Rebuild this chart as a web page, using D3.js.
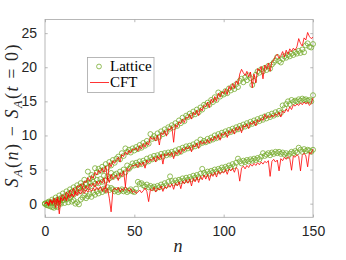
<!DOCTYPE html>
<html>
<head>
<meta charset="utf-8">
<script src="https://cdn.jsdelivr.net/npm/d3@7"></script>
<style>
  body { margin: 0; background: #fff; }
  svg { display: block; }
</style>
</head>
<body>
<div id="chart"></div>
<script>
// values, one per n = 0..150
var latA = [
  0, -0.2, 0.3, 0.1, 0.6, 0.2, 0.9, 0.5, 1.2, 0.8,
  1.5, 1.0, 1.8, 1.4, 2.1, 1.7, 2.4, 2.0, 2.7, 2.3,
  3.0, 2.6, 3.5, 3.0, 4.7, 3.6, 4.2, 3.9, 5.2, 4.6,
  5.1, 4.8, 5.4, 5.0, 5.8, 5.3, 6.1, 5.6, 6.4, 6.0,
  6.6, 6.9, 6.5, 7.4, 7.0, 8.1, 7.6, 7.9, 7.5, 8.1,
  7.8, 8.3, 8.0, 8.6, 8.2, 8.9, 8.5, 9.2, 8.8, 10.2,
  9.5, 9.9, 9.6, 10.3, 9.8, 10.6, 10.2, 10.9, 10.5, 11.2,
  11.0, 11.5, 11.2, 11.8, 11.4, 12.2, 11.8, 12.6, 12.1, 12.9,
  12.7, 13.2, 12.9, 13.5, 13.1, 13.8, 13.4, 14.1, 13.8, 14.5,
  14.3, 14.8, 14.5, 15.2, 14.9, 15.6, 15.2, 16.3, 15.7, 16.1,
  16.0, 16.5, 16.2, 16.9, 16.6, 17.2, 16.8, 17.5, 17.1, 18.0,
  18.3, 17.8, 18.5, 18.1, 18.8, 18.4, 17.4, 18.0, 18.9, 19.4,
  19.2, 19.7, 19.4, 19.9, 19.6, 20.2, 19.8, 20.4, 20.7, 21.0,
  21.5, 20.9, 20.7, 21.2, 21.6, 21.4, 21.8, 21.6, 22.0, 21.8,
  22.2, 22.0, 22.4, 22.1, 22.6, 22.2, 23.2, 23.5, 23.0, 22.9,
  23.4
];
var cftA = [
  0, 0.2, -0.3, 0.5, 0.1, 0.8, 0.3, 1.0, -0.2, 1.1,
  1.3, 0.9, 1.7, 1.2, 2.0, 1.6, 2.3, 1.5, 2.6, 2.4,
  2.9, 2.3, 3.3, 3.1, 3.8, 3.3, 4.1, 3.7, 4.6, 4.2,
  4.9, 4.5, 5.2, 4.6, 5.5, 3.5, 6.0, 5.4, 6.3, 5.9,
  6.4, 6.8, 6.1, 7.2, 6.9, 7.6, 7.2, 7.8, 7.4, 8.0,
  7.9, 8.2, 7.7, 8.5, 8.0, 8.8, 8.3, 9.0, 8.6, 9.8,
  9.4, 9.7, 9.2, 10.0, 8.6, 10.4, 10.1, 10.7, 9.9, 11.0,
  10.8, 11.3, 9.0, 11.6, 11.2, 12.0, 11.7, 12.4, 11.9, 12.7,
  12.5, 13.1, 12.4, 13.4, 13.0, 13.7, 12.9, 14.0, 13.6, 14.4,
  14.2, 14.9, 14.1, 15.3, 14.8, 15.7, 15.0, 16.2, 15.6, 16.4,
  16.1, 16.8, 16.0, 17.2, 16.7, 17.6, 16.9, 18.0, 17.5, 19.0,
  19.7, 19.2, 18.8, 19.4, 18.6, 19.3, 17.0, 19.0, 17.7, 19.8,
  19.5, 20.1, 18.3, 20.3, 19.7, 20.6, 19.4, 20.8, 21.0, 21.6,
  21.9, 21.3, 21.7, 22.3, 21.5, 22.5, 21.9, 22.7, 22.3, 22.8,
  22.5, 23.0, 24.2, 23.5, 23.1, 24.3, 24.0, 25.1, 24.5, 24.2,
  24.4
];
var latB = [
  0, 0.1, -0.3, 0.2, -0.5, 0.4, -0.4, 0.6, 0.0, 0.8,
  0.5, 1.1, 0.7, 1.4, 1.0, 1.7, 1.3, 2.0, 1.6, 2.3,
  1.9, 2.5, 2.2, 2.8, 2.4, 3.1, 2.6, 3.2, 2.9, 3.5,
  3.0, 3.6, 3.2, 4.1, 3.4, 4.0, 3.7, 4.5, 3.9, 4.2,
  4.4, 4.0, 4.7, 4.3, 5.0, 4.6, 5.6, 5.1, 5.4, 5.9,
  5.6, 6.0, 5.7, 6.2, 5.8, 6.3, 6.0, 6.6, 6.2, 6.8,
  6.5, 7.0, 6.6, 7.1, 6.8, 7.3, 6.9, 7.4, 7.1, 7.5,
  7.2, 7.6, 7.3, 7.8, 7.4, 8.0, 7.6, 8.2, 7.9, 8.4,
  8.1, 8.5, 8.2, 8.7, 8.4, 9.0, 8.6, 9.4, 8.9, 9.2,
  9.0, 9.5, 9.2, 9.7, 9.4, 10.0, 9.6, 10.2, 9.9, 10.4,
  10.1, 10.6, 10.3, 10.8, 10.5, 11.0, 10.7, 11.2, 10.9, 11.4,
  11.1, 11.6, 11.3, 11.8, 11.5, 12.0, 11.7, 12.2, 11.9, 12.4,
  12.1, 12.6, 12.3, 12.8, 12.5, 13.0, 12.7, 13.2, 12.9, 13.4,
  13.1, 13.6, 13.3, 14.4, 14.0, 14.6, 15.0, 14.6, 15.2, 14.9,
  15.1, 15.0, 15.3, 15.1, 15.4, 15.2, 15.3, 15.1, 15.2, 15.0,
  15.9
];
var cftB = [
  0, 0.3, -0.1, 0.6, 0.2, 0.4, -0.6, 0.7, -1.5, 0.9,
  0.6, 1.0, 0.4, 1.3, 1.1, 1.5, 1.0, 1.8, 1.4, 2.1,
  1.8, 2.3, 1.9, 2.6, 2.1, 2.9, 2.5, 3.0, 2.4, 3.3,
  2.8, 3.4, 3.0, 3.8, 2.2, 3.9, 3.1, 4.3, 3.6, 4.0,
  4.2, 3.4, 4.5, 4.0, 4.8, 2.5, 5.2, 4.8, 5.3, 5.6,
  5.5, 5.8, 5.3, 6.0, 5.6, 6.1, 5.2, 6.4, 6.0, 6.5,
  6.3, 6.8, 6.1, 7.0, 6.5, 7.2, 5.8, 7.3, 7.0, 7.4,
  7.0, 7.5, 6.6, 7.6, 7.2, 7.9, 7.3, 8.1, 7.7, 8.3,
  8.0, 8.4, 7.6, 8.6, 8.3, 8.9, 8.1, 9.2, 8.7, 9.1,
  8.8, 9.4, 8.9, 9.6, 9.2, 9.9, 9.4, 10.1, 9.3, 10.3,
  10.0, 10.5, 9.7, 10.7, 10.3, 10.9, 10.2, 11.2, 10.7, 11.3,
  10.4, 11.5, 11.2, 11.7, 11.0, 11.9, 11.6, 12.1, 11.4, 12.3,
  12.0, 12.5, 12.2, 13.1, 12.5, 12.9, 12.6, 13.0, 12.7, 13.2,
  12.9, 13.4, 12.7, 13.6, 13.3, 13.9, 13.5, 14.2, 13.8, 14.5,
  14.3, 14.6, 14.4, 14.8, 14.5, 14.9, 14.6, 14.9, 14.4, 14.7,
  15.5
];
var latC = [
  0, -0.2, 0.2, -0.4, 0.1, -0.6, 0.3, -0.5, 0.4, 0.0,
  0.5, 0.1, 0.6, 0.2, 0.8, 0.3, 0.5, 0.0, 0.2, -0.1,
  0.6, 0.9, 1.2, 0.8, 1.1, 1.4, 1.0, 1.6, 1.3, 1.8,
  1.5, 2.0, 1.7, 2.2, 1.9, 2.4, 2.0, 2.3, 2.1, 1.8,
  2.0, 1.7, 1.9, 2.1, 1.8, 2.0, 1.7, 1.9, 2.1, 1.8,
  1.7, 2.2, 3.2, 2.9, 3.0, 2.7, 2.5, 2.8, 2.4, 2.6,
  2.3, 2.5, 2.2, 2.6, 2.4, 2.8, 2.5, 3.0, 2.7, 3.2,
  4.0, 3.3, 3.0, 3.4, 3.1, 3.5, 3.3, 3.7, 3.4, 3.8,
  3.5, 3.9, 3.6, 4.1, 3.8, 4.2, 3.9, 4.4, 5.1, 4.5,
  4.3, 4.7, 4.4, 4.8, 4.6, 5.0, 4.7, 5.1, 4.9, 5.3,
  5.0, 5.4, 5.2, 5.6, 5.3, 5.8, 5.5, 6.0, 6.6, 6.2,
  5.9, 6.3, 6.1, 6.4, 6.2, 6.5, 6.3, 6.6, 6.4, 6.7,
  6.5, 6.9, 7.4, 7.0, 7.2, 7.4, 7.1, 7.5, 7.3, 7.6,
  7.4, 7.6, 7.3, 7.5, 7.2, 7.4, 7.0, 7.3, 7.6, 7.4,
  7.7, 7.5, 8.2, 7.9, 7.6, 8.0, 7.7, 7.9, 7.8, 7.6,
  7.9
];
var cftC = [
  0, 0.2, -0.3, 0.4, -0.1, 0.5, 0.0, 0.6, 0.2, 0.8,
  0.4, 1.0, 0.6, 1.2, 0.8, 1.4, 1.0, 1.5, 1.2, 1.7,
  1.4, 1.9, 1.5, 2.0, 1.7, 2.2, 1.8, 2.3, 1.9, 2.4,
  2.0, 2.5, 1.8, 2.4, 1.6, 2.2, 0.8, -1.2, 1.9, 2.3,
  2.0, 2.4, 1.7, 2.2, 1.9, 2.5, 2.1, 1.8, 2.2, 1.6,
  1.9, 1.5, 1.7, 2.0, 1.6, 1.9, 2.3, 1.8, 0.3, 2.1,
  1.9, 2.4, 1.7, 2.3, 2.0, 2.6, 1.8, 2.5, 2.2, 2.8,
  2.4, 2.9, 2.1, 3.0, 2.6, 3.2, 2.2, 3.3, 2.9, 3.5,
  3.0, 3.6, 2.6, 3.7, 3.2, 3.9, 3.1, 4.0, 3.5, 4.2,
  3.6, 4.3, 3.4, 4.4, 4.0, 4.6, 3.9, 4.8, 4.3, 4.7,
  4.5, 5.0, 4.3, 5.1, 4.8, 5.2, 4.6, 5.3, 5.0, 3.3,
  5.2, 5.5, 5.1, 5.6, 5.3, 5.8, 5.5, 5.9, 5.6, 6.0,
  5.7, 6.1, 5.8, 6.2, 6.0, 6.3, 4.0, 6.2, 6.5, 6.1,
  6.4, 4.8, 6.6, 6.3, 6.8, 6.5, 6.9, 6.6, 4.9, 7.0,
  6.8, 7.2, 6.9, 4.8, 7.1, 7.4, 7.0, 5.4, 7.5, 7.3,
  8.0
];
var xTicks = [0, 50, 100, 150];
var yTicks = [0, 5, 10, 15, 20, 25];

var width = 346, height = 260;
var pLeft = 45, pRight = 313, pTop = 19.5, pBottom = 217.3;

var svg = d3.select('#chart').append('svg')
  .attr('width', width)
  .attr('height', height);

var x = d3.scaleLinear().domain([0, 150]).range([pLeft, pRight]);
var y = d3.scaleLinear().domain([-2, 27]).range([pBottom, pTop]);

var green = '#77AC30', red = '#FF0000', axisCol = '#a6a6a6', textCol = '#262626';

// box
svg.append('rect')
  .attr('x', pLeft).attr('y', pTop)
  .attr('width', pRight - pLeft).attr('height', pBottom - pTop)
  .attr('fill', 'none').attr('stroke', axisCol).attr('stroke-width', 0.8);

// axes (ticks inside, mirrored on top/right)
function styleAxis(g) {
  g.select('.domain').remove();
  g.selectAll('line').attr('stroke', axisCol).attr('stroke-width', 0.8);
  g.selectAll('text').attr('fill', textCol)
    .style('font-family', 'Liberation Sans, Arial, sans-serif').style('font-size', '14px');
}
svg.append('g').attr('transform', 'translate(0,' + pBottom + ')')
  .call(d3.axisBottom(x).tickValues(xTicks).tickSizeInner(-2.7).tickSizeOuter(0).tickPadding(9))
  .call(styleAxis);
svg.append('g').attr('transform', 'translate(0,' + pTop + ')')
  .call(d3.axisTop(x).tickValues(xTicks).tickSizeInner(-2.7).tickSizeOuter(0).tickFormat(''))
  .call(styleAxis);
svg.append('g').attr('transform', 'translate(' + pLeft + ',0)')
  .call(d3.axisLeft(y).tickValues(yTicks).tickSizeInner(-2.7).tickSizeOuter(0).tickPadding(8))
  .call(styleAxis);
svg.append('g').attr('transform', 'translate(' + pRight + ',0)')
  .call(d3.axisRight(y).tickValues(yTicks).tickSizeInner(-2.7).tickSizeOuter(0).tickFormat(''))
  .call(styleAxis);

// data
var lattice = [latA, latB, latC];
var cft = [cftA, cftB, cftC];

var plot = svg.append('g');
lattice.forEach(function(series) {
  plot.selectAll(null)
    .data(series)
    .enter()
    .append('circle')
    .attr('cx', function(d, i) { return x(i); })
    .attr('cy', function(d) { return y(d); })
    .attr('r', 2.5)
    .attr('fill', 'none')
    .attr('stroke', green)
    .attr('stroke-width', 0.8);
});

var line = d3.line()
  .x(function(d, i) { return x(i); })
  .y(function(d) { return y(d); });

cft.forEach(function(series) {
  plot.append('path')
    .datum(series)
    .attr('d', line)
    .attr('fill', 'none')
    .attr('stroke', red)
    .attr('stroke-width', 0.8);
});

// legend
var legend = svg.append('g');
legend.append('rect')
  .attr('x', 87.5).attr('y', 57.5).attr('width', 66.5).attr('height', 35)
  .attr('fill', '#fff').attr('stroke', axisCol).attr('stroke-width', 0.8);
legend.append('circle')
  .attr('cx', 99).attr('cy', 66.5).attr('r', 2.4)
  .attr('fill', 'none').attr('stroke', green).attr('stroke-width', 0.8);
legend.append('line')
  .attr('x1', 90).attr('x2', 109).attr('y1', 82.5).attr('y2', 82.5)
  .attr('stroke', red).attr('stroke-width', 0.8);
legend.selectAll('text.lab')
  .data(['Lattice', 'CFT'])
  .enter()
  .append('text')
  .attr('class', 'lab')
  .attr('x', 110)
  .attr('y', function(d, i) { return 71 + i * 16; })
  .attr('fill', '#000')
  .style('font-family', 'Liberation Serif, serif')
  .style('font-size', '15px')
  .text(function(d) { return d; });

// axis labels
svg.append('text')
  .attr('x', 178).attr('y', 252)
  .attr('text-anchor', 'middle')
  .attr('fill', textCol)
  .style('font-family', 'Liberation Serif, serif')
  .style('font-style', 'italic')
  .style('font-size', '18px')
  .text('n');

var ylab = svg.append('text')
  .attr('transform', 'translate(18,116) rotate(-90)')
  .attr('text-anchor', 'middle')
  .attr('textLength', 143)
  .attr('lengthAdjust', 'spacing')
  .attr('fill', textCol)
  .style('font-family', 'Liberation Serif, serif')
  .style('font-size', '18px');
ylab.append('tspan').style('font-style', 'italic').text('S');
ylab.append('tspan').attr('dy', 4).style('font-size', '12px').style('font-style', 'italic').text('A');
ylab.append('tspan').attr('dy', -4).text('(');
ylab.append('tspan').style('font-style', 'italic').text('n');
ylab.append('tspan').text(') \u2212 ');
ylab.append('tspan').style('font-style', 'italic').text('S');
ylab.append('tspan').attr('dy', 4).style('font-size', '12px').style('font-style', 'italic').text('A');
ylab.append('tspan').attr('dy', -4).text('(');
ylab.append('tspan').style('font-style', 'italic').text('t');
ylab.append('tspan').text(' = 0)');
</script>
</body>
</html>
